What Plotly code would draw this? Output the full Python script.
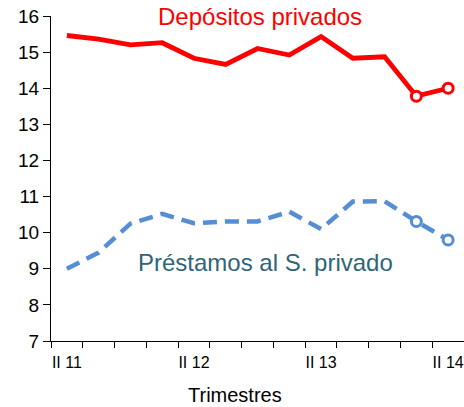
import plotly.graph_objects as go

quarters = ["II 11", "III 11", "IV 11", "I 12", "II 12", "III 12", "IV 12",
            "I 13", "II 13", "III 13", "IV 13", "I 14", "II 14"]
tick_labels = ["II 11", "", "", "", "II 12", "", "", "", "II 13", "", "", "", "II 14"]
depositos = [15.46, 15.36, 15.2, 15.26, 14.83, 14.66, 15.1, 14.92, 15.43, 14.83, 14.87, 13.78, 14.0]
prestamos = [9.0, 9.45, 10.25, 10.52, 10.26, 10.31, 10.31, 10.58, 10.1, 10.86, 10.87, 10.31, 9.8]
y_ticks = [7, 8, 9, 10, 11, 12, 13, 14, 15, 16]

RED = "#FF0000"
BLUE = "#558ED5"
TEAL = "#2F6577"
FONT = "Liberation Sans, Arial"

fig = go.Figure()
fig.add_trace(go.Scatter(x=quarters, y=prestamos, mode="lines",
                         line=dict(color=BLUE, width=4.5, dash="14px,8px"),
                         showlegend=False))
fig.add_trace(go.Scatter(x=quarters[-2:], y=prestamos[-2:], mode="markers",
                         marker=dict(size=10, color="white", line=dict(color=BLUE, width=3)),
                         showlegend=False))
fig.add_trace(go.Scatter(x=quarters, y=depositos, mode="lines",
                         line=dict(color=RED, width=4.8),
                         showlegend=False))
fig.add_trace(go.Scatter(x=quarters[-2:], y=depositos[-2:], mode="markers",
                         marker=dict(size=10, color="white", line=dict(color=RED, width=3)),
                         showlegend=False))

fig.add_annotation(text="Depósitos privados", x=0.505, y=0.997, xref="paper", yref="paper",
                   xanchor="center", yanchor="middle", showarrow=False,
                   font=dict(family=FONT, size=24, color=RED))
fig.add_annotation(text="Préstamos al S. privado", x=0.52, y=9.18, xref="paper", yref="y",
                   xanchor="center", yanchor="middle", showarrow=False,
                   font=dict(family=FONT, size=24, color=TEAL))
fig.add_annotation(text="Trimestres", x=0.445, y=-0.165, xref="paper", yref="paper",
                   xanchor="center", yanchor="middle", showarrow=False,
                   font=dict(family=FONT, size=20, color="#000000"))

fig.update_layout(
    width=464, height=407,
    margin=dict(l=51, r=0, t=16, b=66),
    paper_bgcolor="white", plot_bgcolor="white",
    font=dict(family=FONT, color="#000000"),
)
fig.update_xaxes(type="category", tickmode="array", tickvals=quarters, ticktext=tick_labels,
                 tickson="boundaries", ticks="outside", ticklen=6, tickcolor="#000000",
                 showline=True, linecolor="#000000", linewidth=1, showgrid=False,
                 tickangle=0, tickfont=dict(size=16), ticklabelstandoff=7,
                 range=[-0.5, 12.5], zeroline=False)
fig.update_yaxes(range=[7, 16], tickvals=y_ticks, ticks="outside", ticklen=7,
                 tickcolor="#000000", showline=True, linecolor="#000000", linewidth=1,
                 showgrid=False, zeroline=False, tickfont=dict(size=19))

fig.write_html("out.html", config={"displayModeBar": False},
               post_script="document.body.style.margin='0';document.body.style.overflow='hidden';")
